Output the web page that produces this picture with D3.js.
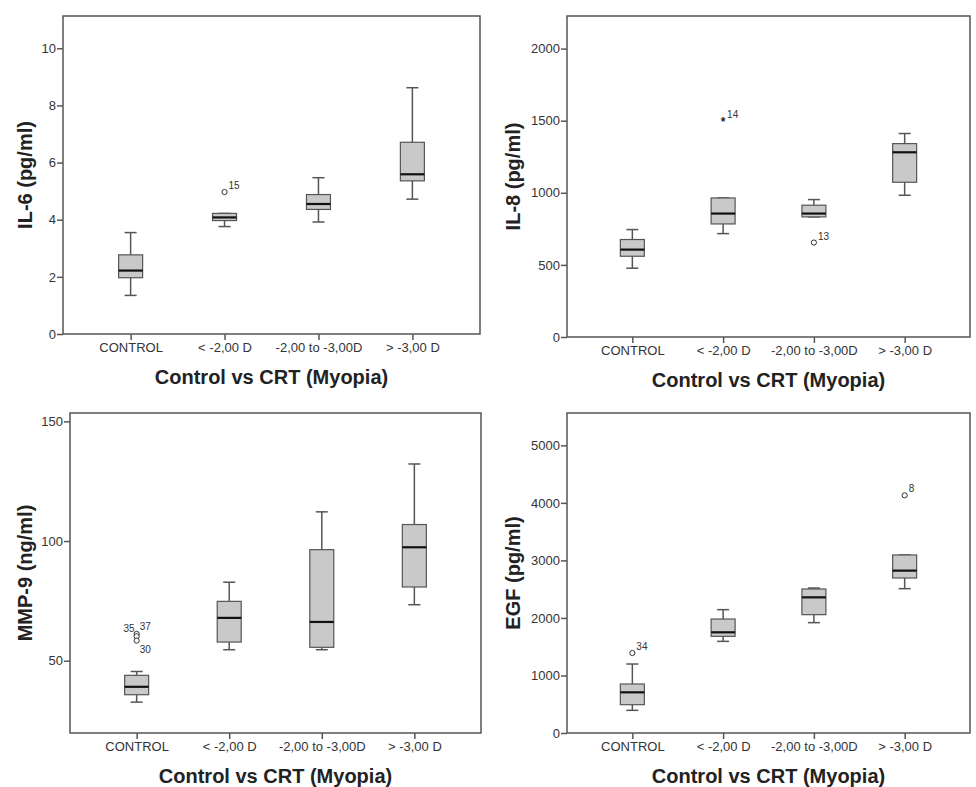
<!DOCTYPE html>
<html>
<head>
<meta charset="utf-8">
<script src="https://cdn.jsdelivr.net/npm/d3@7"></script>
<style>
    body { margin: 0; background: #fff; }
    svg { display: block; font-family: Arial, "Liberation Sans", sans-serif; }
    .tick-label { font-size: 13px; fill: #333; }
    .axis-title { font-size: 20px; font-weight: bold; fill: #222; }
    .outlier-label { font-size: 10px; fill: #333; }
</style>
</head>
<body>
<div id="chart"></div>
<script>

// Categories shared by all four panels
const categories = ["CONTROL", "< -2,00 D", "-2,00 to -3,00D", "> -3,00 D"];

// Box stats per category: [lower whisker, Q1, median, Q3, upper whisker]
const il6Stats = [
    [1.35, 1.97, 2.22, 2.77, 3.55],
    [3.76, 3.97, 4.08, 4.22, 4.22],
    [3.92, 4.36, 4.55, 4.88, 5.47],
    [4.72, 5.36, 5.59, 6.71, 8.62]
];
const il8Stats = [
    [477, 560, 606, 676, 745],
    [717, 784, 856, 964, 964],
    [833, 833, 856, 914, 953],
    [983, 1073, 1281, 1341, 1411]
];
const mmp9Stats = [
    [32.7, 35.8, 39.1, 43.9, 45.5],
    [54.6, 57.8, 67.9, 74.8, 82.8],
    [54.6, 55.6, 66.2, 96.4, 112.2],
    [73.4, 80.8, 97.4, 106.9, 132.2]
];
const egfStats = [
    [394, 492, 707, 852, 1199],
    [1593, 1680, 1750, 1981, 2144],
    [1918, 2057, 2358, 2503, 2520],
    [2509, 2694, 2822, 3094, 3094]
];

// Outliers: [category index, value, case label, shape]
const il6Outliers = [[1, 4.97, "15", "circle"]];
const il8Outliers = [[1, 1498, "14", "star"], [2, 655, "13", "circle"]];
const mmp9Outliers = [[0, 61.2, "35", "circle"], [0, 60.2, "37", "circle"], [0, 58.4, "30", "circle"]];
const egfOutliers = [[0, 1390, "34", "circle"], [3, 4131, "8", "circle"]];

// Y axis ticks and domains
const il6Ticks = [0, 2, 4, 6, 8, 10];
const il8Ticks = [0, 500, 1000, 1500, 2000];
const mmp9Ticks = [50, 100, 150];
const egfTicks = [0, 1000, 2000, 3000, 4000, 5000];

const panels = [
    {title: "IL-6 (pg/ml)", stats: il6Stats, outliers: il6Outliers, ticks: il6Ticks, domain: [0, 11.13],
        frame: {left: 63, top: 16, right: 480, bottom: 334}, titleX: 25},
    {title: "IL-8 (pg/ml)", stats: il8Stats, outliers: il8Outliers, ticks: il8Ticks, domain: [0, 2226],
        frame: {left: 567, top: 16, right: 970, bottom: 337}, titleX: 513},
    {title: "MMP-9 (ng/ml)", stats: mmp9Stats, outliers: mmp9Outliers, ticks: mmp9Ticks, domain: [19.8, 153.5],
        frame: {left: 70, top: 413, right: 481, bottom: 733}, titleX: 25},
    {title: "EGF (pg/ml)", stats: egfStats, outliers: egfOutliers, ticks: egfTicks, domain: [0, 5562],
        frame: {left: 567, top: 413, right: 970, bottom: 733}, titleX: 513}
];

const svg = d3.select("#chart").append("svg")
    .attr("width", 976)
    .attr("height", 787);

const boxFill = "#c9c9c9";
const lineCol = "#555";

function drawPanel(p) {
    let f = p.frame;
    let g = svg.append("g");

    let x = d3.scalePoint()
        .domain(categories)
        .range([f.left, f.right])
        .padding(0.72);

    let y = d3.scaleLinear()
        .domain(p.domain)
        .range([f.bottom, f.top]);

    // Axes
    let yAxis = d3.axisLeft(y).tickValues(p.ticks).tickSize(6).tickPadding(1).tickFormat(d3.format("d"));
    let xAxis = d3.axisBottom(x).tickSize(6).tickPadding(3);

    let ya = g.append("g").attr("transform", `translate(${f.left},0)`).call(yAxis);
    let xa = g.append("g").attr("transform", `translate(0,${f.bottom})`).call(xAxis);
    [ya, xa].forEach(a => {
        a.select(".domain").remove();
        a.selectAll(".tick line").attr("stroke", lineCol).attr("stroke-width", 1.5);
        a.selectAll(".tick text").attr("class", "tick-label").attr("font-size", null).attr("fill", null);
    });

    // Frame
    g.append("rect")
        .attr("x", f.left)
        .attr("y", f.top)
        .attr("width", f.right - f.left)
        .attr("height", f.bottom - f.top)
        .attr("fill", "none")
        .attr("stroke", lineCol)
        .attr("stroke-width", 1.5);

    // Boxes
    let bw = 24, cw = 12;
    let boxes = g.selectAll(".box")
        .data(p.stats.map((s, i) => ({cat: categories[i], s: s})))
        .join("g")
        .attr("class", "box");

    // whiskers
    boxes.append("line")
        .attr("x1", d => x(d.cat)).attr("x2", d => x(d.cat))
        .attr("y1", d => y(d.s[0])).attr("y2", d => y(d.s[1]))
        .attr("stroke", lineCol).attr("stroke-width", 1.5);
    boxes.append("line")
        .attr("x1", d => x(d.cat)).attr("x2", d => x(d.cat))
        .attr("y1", d => y(d.s[3])).attr("y2", d => y(d.s[4]))
        .attr("stroke", lineCol).attr("stroke-width", 1.5);
    boxes.append("line")
        .attr("x1", d => x(d.cat) - cw / 2).attr("x2", d => x(d.cat) + cw / 2)
        .attr("y1", d => y(d.s[0])).attr("y2", d => y(d.s[0]))
        .attr("stroke", lineCol).attr("stroke-width", 1.5);
    boxes.append("line")
        .attr("x1", d => x(d.cat) - cw / 2).attr("x2", d => x(d.cat) + cw / 2)
        .attr("y1", d => y(d.s[4])).attr("y2", d => y(d.s[4]))
        .attr("stroke", lineCol).attr("stroke-width", 1.5);

    boxes.append("rect")
        .attr("x", d => x(d.cat) - bw / 2)
        .attr("y", d => y(d.s[3]))
        .attr("width", bw)
        .attr("height", d => Math.max(1, y(d.s[1]) - y(d.s[3])))
        .attr("fill", boxFill)
        .attr("stroke", lineCol)
        .attr("stroke-width", 1.2);

    boxes.append("line")
        .attr("x1", d => x(d.cat) - bw / 2).attr("x2", d => x(d.cat) + bw / 2)
        .attr("y1", d => y(d.s[2])).attr("y2", d => y(d.s[2]))
        .attr("stroke", "#111").attr("stroke-width", 2.2);

    // Outliers
    p.outliers.forEach((o, k) => {
        let cx = x(categories[o[0]]), cy = y(o[1]);
        if (o[3] == "star") {
            g.append("text")
                .attr("x", cx).attr("y", cy + 5)
                .attr("text-anchor", "middle")
                .attr("font-size", 12).attr("font-weight", "bold").attr("fill", "#222")
                .text("*");
        } else {
            g.append("circle")
                .attr("cx", cx).attr("cy", cy).attr("r", 2.6)
                .attr("fill", "#fff").attr("stroke", "#333").attr("stroke-width", 1);
        }
        // label placement: stacked control outliers in MMP-9 spread around
        let lx = cx + 4, ly = cy - 3, anchor = "start";
        if (p.outliers.length == 3) {
            if (k == 0) { lx = cx - 2; ly = cy - 2; anchor = "end"; }
            if (k == 1) { lx = cx + 3; ly = cy - 6; }
            if (k == 2) { lx = cx + 3; ly = cy + 12; }
        }
        g.append("text")
            .attr("class", "outlier-label")
            .attr("x", lx).attr("y", ly)
            .attr("text-anchor", anchor)
            .text(o[2]);
    });

    // Titles
    g.append("text")
        .attr("class", "axis-title")
        .attr("transform", `translate(${p.titleX},${(f.top + f.bottom) / 2}) rotate(-90)`)
        .attr("text-anchor", "middle")
        .attr("dy", "0.35em")
        .text(p.title);

    g.append("text")
        .attr("class", "axis-title")
        .attr("x", (f.left + f.right) / 2)
        .attr("y", f.bottom + 50)
        .attr("text-anchor", "middle")
        .text("Control vs CRT (Myopia)");
}

panels.forEach(drawPanel);

</script>
</body>
</html>
